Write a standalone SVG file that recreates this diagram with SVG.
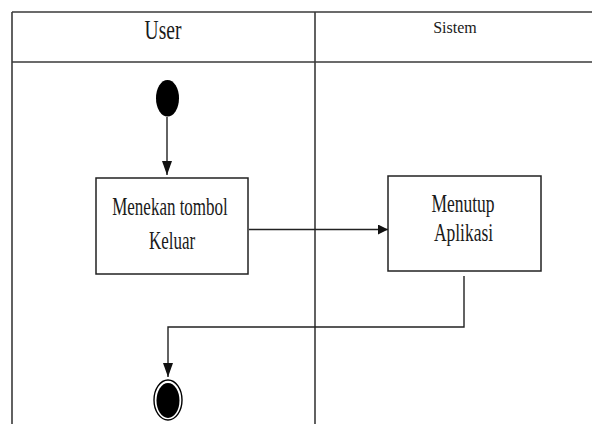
<svg xmlns="http://www.w3.org/2000/svg" width="592" height="424" viewBox="0 0 592 424">
<defs>
<style>
.frame{fill:none;stroke:#3a3a3a;stroke-width:1.6}
.box{fill:#fff;stroke:#222;stroke-width:1.5}
.conn{fill:none;stroke:#222;stroke-width:1.4}
.t{font-family:"Liberation Serif","Times New Roman",serif;fill:#1a1a1a;text-anchor:middle}
</style>
<marker id="arr" viewBox="0 0 10 10" refX="10" refY="5" markerWidth="10" markerHeight="10" markerUnits="userSpaceOnUse" orient="auto">
<path d="M0,0 L10,5 L0,10 Z" fill="#111"/>
</marker>
<marker id="arrv" viewBox="0 0 14 10" refX="14" refY="5" markerWidth="14" markerHeight="10" markerUnits="userSpaceOnUse" orient="auto">
<path d="M0,0 L14,5 L0,10 Z" fill="#111"/>
</marker>
</defs>
<g id="swimlanes">
<line class="frame" x1="12" y1="12" x2="592" y2="12"/>
<line class="frame" x1="12" y1="62" x2="592" y2="62"/>
<line class="frame" x1="12" y1="12" x2="12" y2="424"/>
<line class="frame" x1="315" y1="12" x2="315" y2="424"/>
<text class="t" font-size="19.5" transform="translate(163,39) scale(1,1.45)">User</text>
<text class="t" font-size="16" x="455" y="33">Sistem</text>
</g>
<g id="connectors">
<line class="conn" x1="167" y1="117" x2="167" y2="175" marker-end="url(#arrv)"/>
<line class="conn" x1="249" y1="229.5" x2="388" y2="229.5" marker-end="url(#arr)"/>
<polyline class="conn" points="464,276 464,327 168,327 168,377" marker-end="url(#arrv)"/>
</g>
<g id="start">
<ellipse cx="167.5" cy="98.3" rx="11.5" ry="18.3" fill="#000"/>
</g>
<g id="menekan">
<rect class="box" x="96" y="178" width="152" height="96"/>
<text class="t" font-size="17" transform="translate(170,215) scale(1,1.42)">Menekan tombol</text>
<text class="t" font-size="17" transform="translate(172,249) scale(1,1.42)">Keluar</text>
</g>
<g id="menutup">
<rect class="box" x="388" y="176" width="153" height="95"/>
<text class="t" font-size="17.5" transform="translate(463,212) scale(1,1.4)">Menutup</text>
<text class="t" font-size="17.5" transform="translate(463.5,241) scale(1,1.4)">Aplikasi</text>
</g>
<g id="end">
<ellipse cx="168" cy="400" rx="14" ry="20" fill="#fff" stroke="#000" stroke-width="1.4"/>
<ellipse cx="168" cy="400.5" rx="11.5" ry="17.5" fill="#000"/>
</g>
</svg>
